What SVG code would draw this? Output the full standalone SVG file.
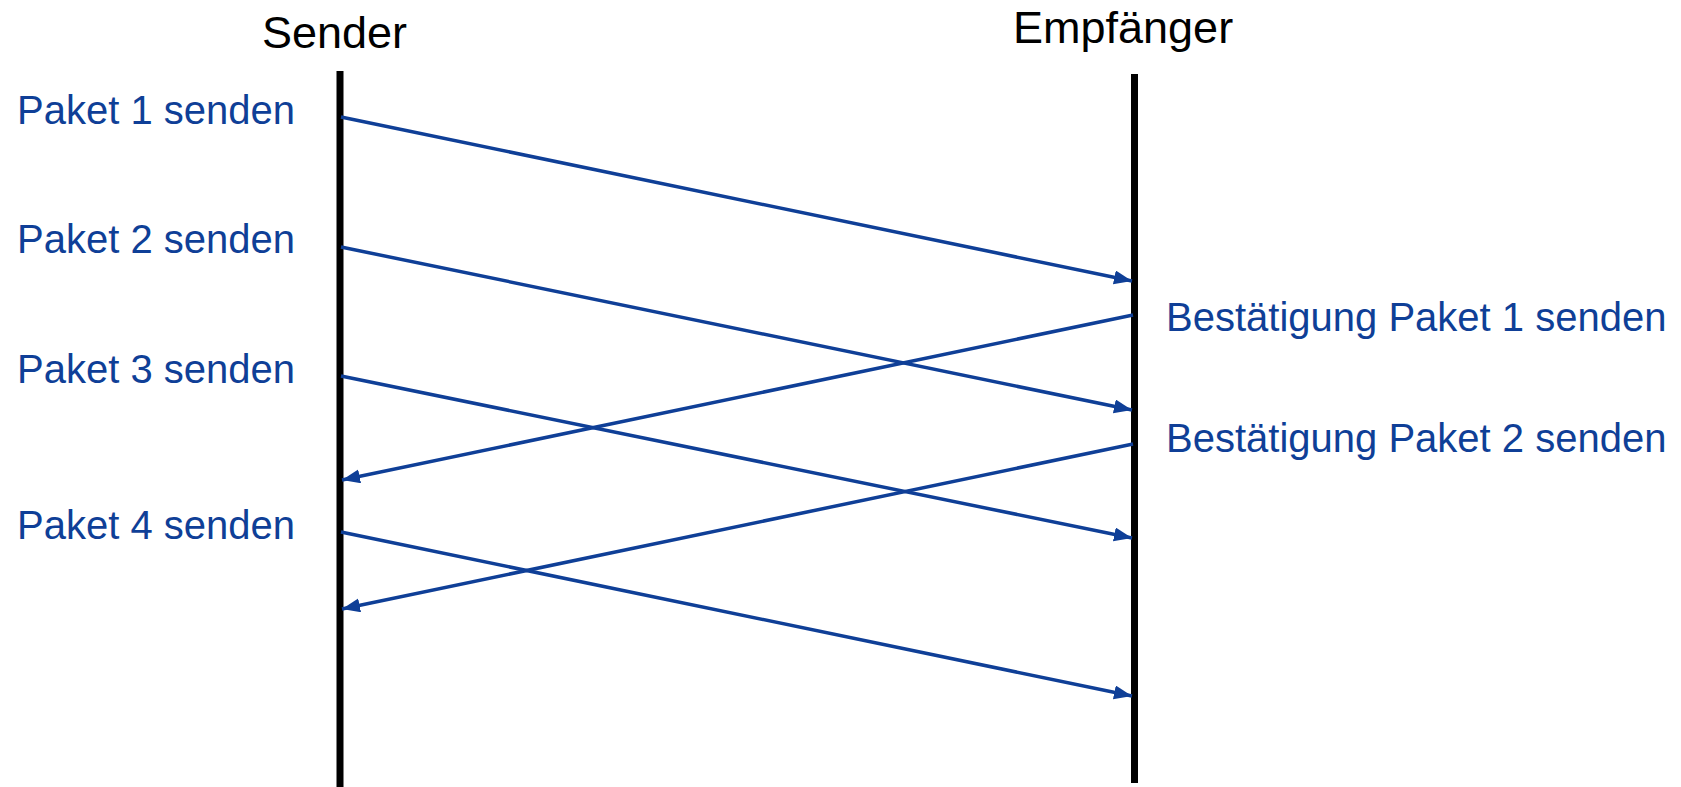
<svg xmlns="http://www.w3.org/2000/svg" width="1681" height="787" viewBox="0 0 1681 787">
<style>
.head{font-family:"Liberation Sans",Arial,sans-serif;font-size:45px;fill:#000}
.lbl{font-family:"Liberation Sans",Arial,sans-serif;font-size:40px;fill:#0F3F97}
.life{stroke:#000;stroke-width:7;fill:none}
.msg{stroke:#0F3F97;stroke-width:3.5;fill:none;marker-end:url(#ah)}
</style>
<defs>
<marker id="ah" markerUnits="userSpaceOnUse" markerWidth="19" markerHeight="15" refX="18" refY="7" orient="auto">
<path d="M0,0 L18,7 L0,14 z" fill="#0F3F97"/>
</marker>
</defs>
<rect width="1681" height="787" fill="#fff"/>
<g id="sender">
<text class="head" x="262" y="48">Sender</text>
<line class="life" x1="340" y1="71" x2="340" y2="787"/>
</g>
<g id="empfaenger">
<text class="head" x="1013" y="43">Empfänger</text>
<line class="life" x1="1134.5" y1="74" x2="1134.5" y2="783"/>
</g>
<g id="labels">
<text class="lbl" x="17" y="124">Paket 1 senden</text>
<text class="lbl" x="17" y="253">Paket 2 senden</text>
<text class="lbl" x="17" y="383">Paket 3 senden</text>
<text class="lbl" x="17" y="539">Paket 4 senden</text>
<text class="lbl" x="1166" y="331">Bestätigung Paket 1 senden</text>
<text class="lbl" x="1166" y="452">Bestätigung Paket 2 senden</text>
</g>
<g id="connectors">
<line class="msg" x1="341" y1="117" x2="1132" y2="281"/>
<line class="msg" x1="341" y1="247" x2="1132" y2="410"/>
<line class="msg" x1="341" y1="376" x2="1132" y2="538"/>
<line class="msg" x1="341" y1="532" x2="1132" y2="696"/>
<line class="msg" x1="1133" y1="315" x2="342" y2="480"/>
<line class="msg" x1="1133" y1="444" x2="342" y2="609"/>
</g>
</svg>
